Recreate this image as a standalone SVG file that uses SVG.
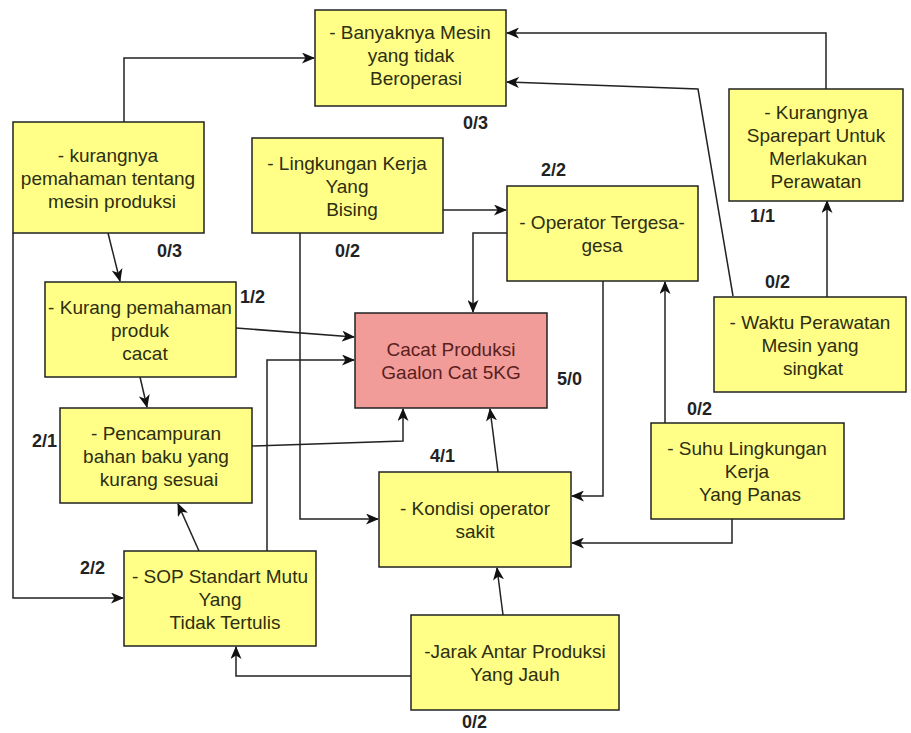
<svg xmlns="http://www.w3.org/2000/svg" width="911" height="733" viewBox="0 0 911 733">
<style>
.n rect{fill:#ffff88;stroke:#222;stroke-width:1.5}
.n.r rect{fill:#f19c99}
.n text{font-family:"Liberation Sans",Arial,sans-serif;font-size:19px;fill:#2e2e10;text-anchor:middle}
.n.r text{fill:#5a2020}
.c path{fill:none;stroke:#222;stroke-width:1.5}
.lb{font-family:"Liberation Sans",Arial,sans-serif;font-size:18px;font-weight:bold;fill:#222}
</style>
<defs>
<marker id="a" viewBox="0 0 13 11" markerWidth="13" markerHeight="11" refX="12" refY="5.5" orient="auto" markerUnits="userSpaceOnUse">
<path d="M0,0 L13,5.5 L0,11 L3.5,5.5 z" fill="#111"/>
</marker>
</defs>
<rect width="911" height="733" fill="#fff"/>
<g class="c">
<path d="M124,122 V58 H314" marker-end="url(#a)"/>
<path d="M826,89 V33 H507" marker-end="url(#a)"/>
<path d="M733,296 L698,89 L507,82" marker-end="url(#a)"/>
<path d="M827,297 V201" marker-end="url(#a)"/>
<path d="M443,210 H506" marker-end="url(#a)"/>
<path d="M507,233 H473 V312" marker-end="url(#a)"/>
<path d="M603,281 V496 H572" marker-end="url(#a)"/>
<path d="M665,423 V282" marker-end="url(#a)"/>
<path d="M732,519 V543 H572" marker-end="url(#a)"/>
<path d="M300,233 V519 H378" marker-end="url(#a)"/>
<path d="M13,233 V598 H123" marker-end="url(#a)"/>
<path d="M108,233 L120,281" marker-end="url(#a)"/>
<path d="M236,328 L354,337" marker-end="url(#a)"/>
<path d="M140,377 L147,407" marker-end="url(#a)"/>
<path d="M252,446 L403,441 V409" marker-end="url(#a)"/>
<path d="M267,551 V360 H354" marker-end="url(#a)"/>
<path d="M199,551 L178,504" marker-end="url(#a)"/>
<path d="M498,472 L490,409" marker-end="url(#a)"/>
<path d="M503,615 L497,568" marker-end="url(#a)"/>
<path d="M411,676 H236 V647" marker-end="url(#a)"/>
</g>
<g id="banyaknya" class="n"><rect x="315" y="10" width="191" height="96"/>
<text x="410" y="39">- Banyaknya Mesin</text><text x="411" y="62">yang tidak</text><text x="416" y="85">Beroperasi</text></g>
<g id="sparepart" class="n"><rect x="729" y="89" width="174" height="112"/>
<text x="816" y="119">- Kurangnya</text><text x="816" y="142">Sparepart Untuk</text><text x="818" y="165">Merlakukan</text><text x="816" y="188">Perawatan</text></g>
<g id="kurangnya" class="n"><rect x="13" y="122" width="191" height="111"/>
<text x="108" y="162">- kurangnya</text><text x="108" y="185">pemahaman tentang</text><text x="112" y="208">mesin produksi</text></g>
<g id="lingkungan" class="n"><rect x="252" y="138" width="191" height="95"/>
<text x="347" y="170">- Lingkungan Kerja</text><text x="347" y="193">Yang</text><text x="352" y="216">Bising</text></g>
<g id="operator" class="n"><rect x="507" y="186" width="191" height="95"/>
<text x="602" y="229">- Operator Tergesa-</text><text x="602" y="252">gesa</text></g>
<g id="waktu" class="n"><rect x="714" y="297" width="192" height="95"/>
<text x="810" y="329">- Waktu Perawatan</text><text x="810" y="352">Mesin yang</text><text x="813" y="375">singkat</text></g>
<g id="kurangproduk" class="n"><rect x="45" y="282" width="191" height="95"/>
<text x="140" y="314">- Kurang pemahaman</text><text x="140" y="337">produk</text><text x="145" y="360">cacat</text></g>
<g id="cacat" class="n r"><rect x="355" y="313" width="192" height="95"/>
<text x="451" y="356">Cacat Produksi</text><text x="451" y="379">Gaalon Cat 5KG</text></g>
<g id="pencampuran" class="n"><rect x="60" y="408" width="192" height="95"/>
<text x="156" y="440">- Pencampuran</text><text x="156" y="463">bahan baku yang</text><text x="159" y="486">kurang sesuai</text></g>
<g id="kondisi" class="n"><rect x="379" y="472" width="192" height="95"/>
<text x="475" y="515">- Kondisi operator</text><text x="475" y="538">sakit</text></g>
<g id="suhu" class="n"><rect x="651" y="423" width="193" height="96"/>
<text x="747" y="455">- Suhu Lingkungan</text><text x="747" y="478">Kerja</text><text x="750" y="501">Yang Panas</text></g>
<g id="sop" class="n"><rect x="124" y="551" width="192" height="95"/>
<text x="220" y="583">- SOP Standart Mutu</text><text x="220" y="606">Yang</text><text x="225" y="629">Tidak Tertulis</text></g>
<g id="jarak" class="n"><rect x="411" y="615" width="208" height="95"/>
<text x="515" y="658">-Jarak Antar Produksi</text><text x="515" y="681">Yang Jauh</text></g>
<g id="labels">
<text class="lb" x="463" y="129">0/3</text>
<text class="lb" x="541" y="176">2/2</text>
<text class="lb" x="750" y="222">1/1</text>
<text class="lb" x="765" y="288">0/2</text>
<text class="lb" x="557" y="385">5/0</text>
<text class="lb" x="157" y="257">0/3</text>
<text class="lb" x="335" y="257">0/2</text>
<text class="lb" x="240" y="303">1/2</text>
<text class="lb" x="32" y="447">2/1</text>
<text class="lb" x="80" y="574">2/2</text>
<text class="lb" x="430" y="462">4/1</text>
<text class="lb" x="687" y="415">0/2</text>
<text class="lb" x="462" y="728">0/2</text>
</g>
</svg>
